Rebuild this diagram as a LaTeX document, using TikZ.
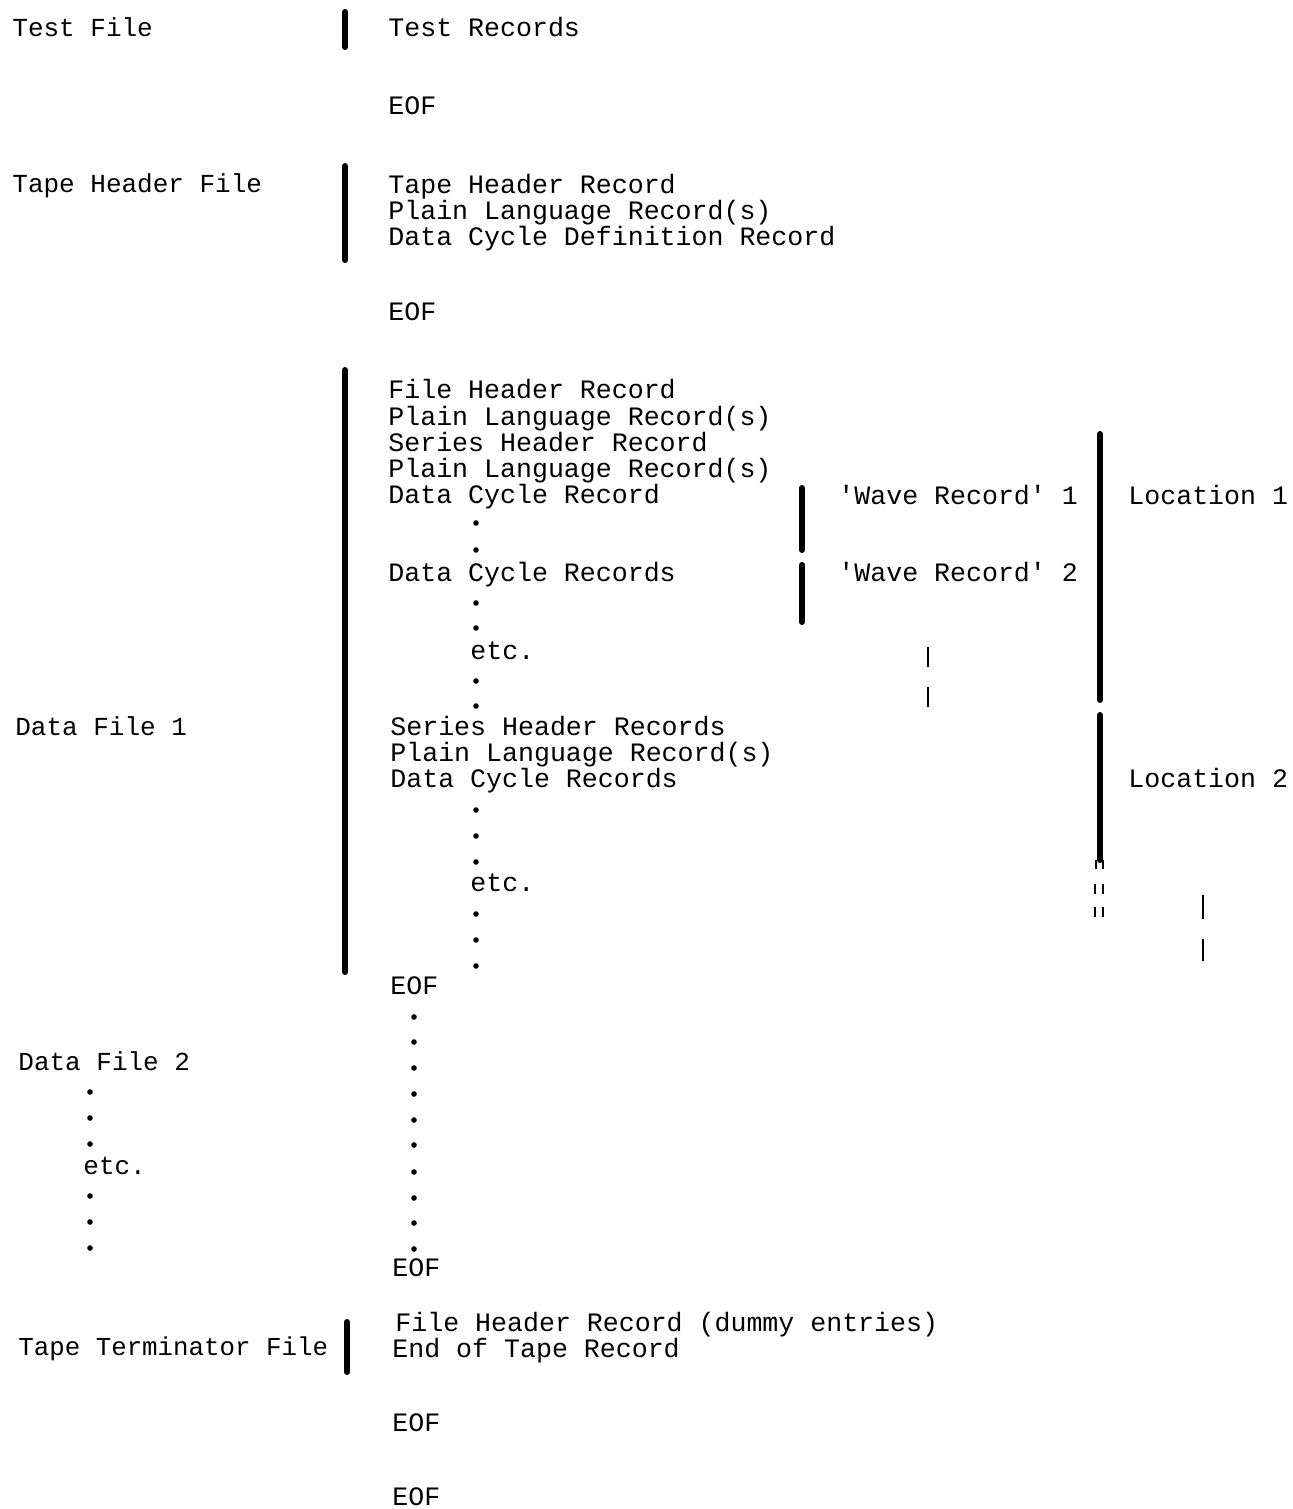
\documentclass[tikz,border=0pt]{standalone}
\usepackage{fontspec}
\setmonofont{Liberation Mono}
\usepackage{tikz}
\usetikzlibrary{positioning}

\tikzset{
  rec/.style={anchor=base west, inner sep=0pt, font=\ttfamily\fontsize{13.3}{13}\selectfont},
  fname/.style={rec, font=\ttfamily\fontsize{13.0}{13}\selectfont},
  bar/.style={line width=3pt, line cap=round},
  tick/.style={line width=1pt},
  dot/.style={circle, fill=black, inner sep=0pt, minimum size=2.8pt}
}

\begin{document}
\begin{tikzpicture}[x=0.5pt, y=-0.5pt]
  \useasboundingbox (0,0) rectangle (1292,1509);
  % file names
  \node [fname] (TestFile) at (12,37) {Test File};
  \node [fname] (TapeHdrFile) at (12,192) {Tape Header File};
  \node [fname] (DataFile1) at (15,735) {Data File 1};
  \node [fname] (DataFile2) at (18,1070) {Data File 2};
  \node [fname] (EtcL) at (83,1174) {etc.};
  \node [fname, font=\ttfamily\fontsize{12.9}{13}\selectfont] (TermFile) at (18,1355) {Tape Terminator File};
  % records
  \node [rec] (TestRec) at (388,37) {Test Records};
  \node [rec] (EOF1) at (388,115) {EOF};
  \node [rec] (THR) at (388,193) {Tape Header Record};
  \node [rec] (PLR1) at (388,219) {Plain Language Record(s)};
  \node [rec] (DCDR) at (388,245) {Data Cycle Definition Record};
  \node [rec] (EOF2) at (388,320) {EOF};
  \node [rec] (FHR) at (388,398) {File Header Record};
  \node [rec] (PLR2) at (388,425) {Plain Language Record(s)};
  \node [rec] (SHR1) at (388,451) {Series Header Record};
  \node [rec] (PLR3) at (388,477) {Plain Language Record(s)};
  \node [rec] (DCR1) at (388,503) {Data Cycle Record};
  \node [rec] (DCR2) at (388,581) {Data Cycle Records};
  \node [rec] (Etc1) at (470,659) {etc.};
  \node [rec] (SHR2) at (390,735) {Series Header Records};
  \node [rec] (PLR4) at (390,761) {Plain Language Record(s)};
  \node [rec] (DCR3) at (390,787) {Data Cycle Records};
  \node [rec] (Etc2) at (470,891) {etc.};
  \node [rec] (EOF3) at (390,994) {EOF};
  \node [rec] (EOF4) at (392,1276) {EOF};
  \node [rec] (FHRd) at (395,1331) {File Header Record (dummy entries)};
  \node [rec] (EOTR) at (392,1357) {End of Tape Record};
  \node [rec] (EOF5) at (392,1431) {EOF};
  \node [rec] (EOF6) at (392,1505) {EOF};
  % wave records and locations
  \node [rec] (Wave1) at (838,504) {'Wave Record' 1};
  \node [rec] (Wave2) at (838,581) {'Wave Record' 2};
  \node [rec] (Loc1) at (1128,504) {Location 1};
  \node [rec] (Loc2) at (1128,787) {Location 2};
  % dots
  \foreach \y in {523,550,603,628,681,706,810,836,862,914,940,966}
    \node [dot] at (476,\y) {};
  \foreach \y in {1017,1042,1068,1094,1120,1145,1172,1198,1223,1249}
    \node [dot] at (414,\y) {};
  \foreach \y in {1092,1118,1144,1196,1222,1248}
    \node [dot] at (90,\y) {};
  % bars
  \draw [bar] (345,12) -- (345,47);
  \draw [bar] (345,166) -- (345,260);
  \draw [bar] (345,370) -- (345,972);
  \draw [bar] (347,1322) -- (347,1372);
  \draw [bar] (802,488) -- (802,550);
  \draw [bar] (802,565) -- (802,622);
  \draw [bar] (1100,434) -- (1100,700);
  \draw [bar] (1100,715) -- (1100,860);
  \draw [tick] (1096,860) -- (1096,869);
  \draw [tick] (1103,860) -- (1103,869);
  \draw [tick] (1095,884) -- (1095,894);
  \draw [tick] (1103,884) -- (1103,894);
  \draw [tick] (1095,907) -- (1095,917);
  \draw [tick] (1103,907) -- (1103,917);
  \draw [tick] (928,647) -- (928,667);
  \draw [tick] (928,687) -- (928,707);
  \draw [tick] (1203,895) -- (1203,919);
  \draw [tick] (1203,939) -- (1203,961);
\end{tikzpicture}
\end{document}
